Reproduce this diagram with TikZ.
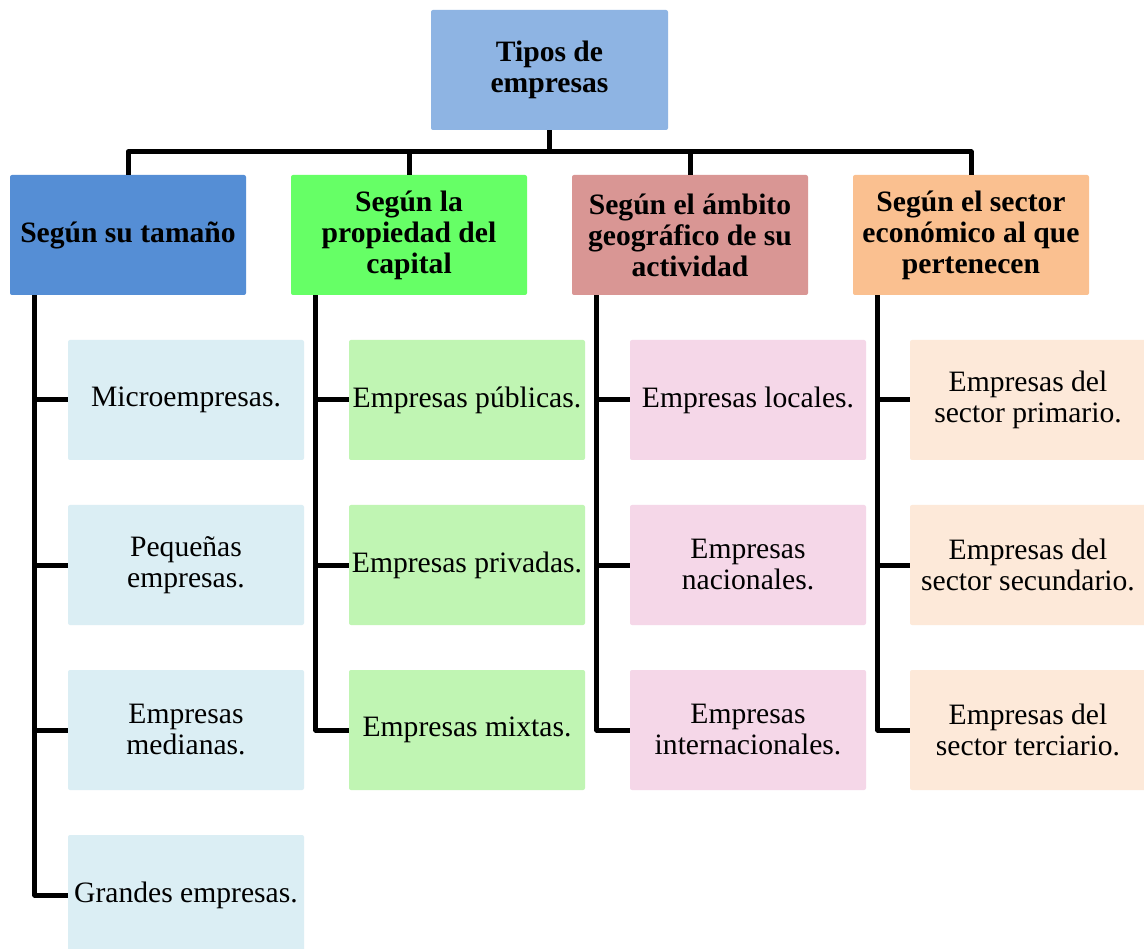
\documentclass[tikz,border=0pt]{standalone}
\usepackage{fontspec}
\setmainfont{Liberation Serif}
\definecolor{ctop}{HTML}{8EB4E3}
\definecolor{cs1}{HTML}{558ED5}
\definecolor{cs2}{HTML}{66FF66}
\definecolor{cs3}{HTML}{D99694}
\definecolor{cs4}{HTML}{FAC090}
\definecolor{cc1}{HTML}{DBEEF4}
\definecolor{cc2}{HTML}{C0F5B3}
\definecolor{cc3}{HTML}{F5D7E8}
\definecolor{cc4}{HTML}{FDE9D9}
\tikzset{
  box/.style={rectangle, rounded corners=2pt, minimum width=236pt, minimum height=120pt,
    inner sep=1pt, align=center, font=\fontsize{29.6}{31}\selectfont},
  headbox/.style={box, font=\fontsize{29.6}{31}\selectfont\bfseries},
  conn/.style={line width=5pt, line join=round, draw=black}
}
\begin{document}
\begin{tikzpicture}[x=1pt,y=1pt]
\clip (0,0) rectangle (1144,-949);
\fill[white] (0,0) rectangle (1144,-949);
% top
\node[headbox, fill=ctop, minimum width=237pt] (top) at (549.5,-70) {Tipos de\\empresas};
% level 1
\node[headbox, fill=cs1] (s1) at (128,-235) {Según su tamaño};
\node[headbox, fill=cs2] (s2) at (409,-235) {Según la\\propiedad del\\capital};
\node[headbox, fill=cs3] (s3) at (690,-235) {Según el ámbito\\geográfico de su\\actividad};
\node[headbox, fill=cs4] (s4) at (971,-235) {Según el sector\\económico al que\\pertenecen};
% column 1
\node[box, fill=cc1] (a1) at (186,-400) {Microempresas.};
\node[box, fill=cc1] (a2) at (186,-565) {Pequeñas\\empresas.};
\node[box, fill=cc1] (a3) at (186,-730) {Empresas\\medianas.};
\node[box, fill=cc1] (a4) at (186,-895) {Grandes empresas.};
% column 2
\node[box, fill=cc2] (b1) at (467,-400) {Empresas públicas.};
\node[box, fill=cc2] (b2) at (467,-565) {Empresas privadas.};
\node[box, fill=cc2] (b3) at (467,-730) {Empresas mixtas.};
% column 3
\node[box, fill=cc3] (c1) at (748,-400) {Empresas locales.};
\node[box, fill=cc3] (c2) at (748,-565) {Empresas\\nacionales.};
\node[box, fill=cc3] (c3) at (748,-730) {Empresas\\internacionales.};
% column 4
\node[box, fill=cc4] (d1) at (1028,-400) {Empresas del\\sector primario.};
\node[box, fill=cc4] (d2) at (1028,-565) {Empresas del\\sector secundario.};
\node[box, fill=cc4] (d3) at (1028,-730) {Empresas del\\sector terciario.};
% bus
\coordinate (bus) at (549.5,-152);
\draw[conn] (top.south) -- (top.south |- bus);
\draw[conn] (s1.north) -- (s1.north |- bus) -- (bus -| s4.north) -- (s4.north);
\draw[conn] (s2.north) -- (s2.north |- bus);
\draw[conn] (s3.north) -- (s3.north |- bus);
% trunks
\coordinate (t1) at ([xshift=25pt]s1.south west);
\coordinate (t2) at ([xshift=25pt]s2.south west);
\coordinate (t3) at ([xshift=25pt]s3.south west);
\coordinate (t4) at ([xshift=25pt]s4.south west);
\draw[conn] (t1) |- (a4.west);
\draw[conn] (a1.west) -- (a1.west -| t1);
\draw[conn] (a2.west) -- (a2.west -| t1);
\draw[conn] (a3.west) -- (a3.west -| t1);
\draw[conn] (t2) |- (b3.west);
\draw[conn] (b1.west) -- (b1.west -| t2);
\draw[conn] (b2.west) -- (b2.west -| t2);
\draw[conn] (t3) |- (c3.west);
\draw[conn] (c1.west) -- (c1.west -| t3);
\draw[conn] (c2.west) -- (c2.west -| t3);
\draw[conn] (t4) |- (d3.west);
\draw[conn] (d1.west) -- (d1.west -| t4);
\draw[conn] (d2.west) -- (d2.west -| t4);
\end{tikzpicture}
\end{document}
